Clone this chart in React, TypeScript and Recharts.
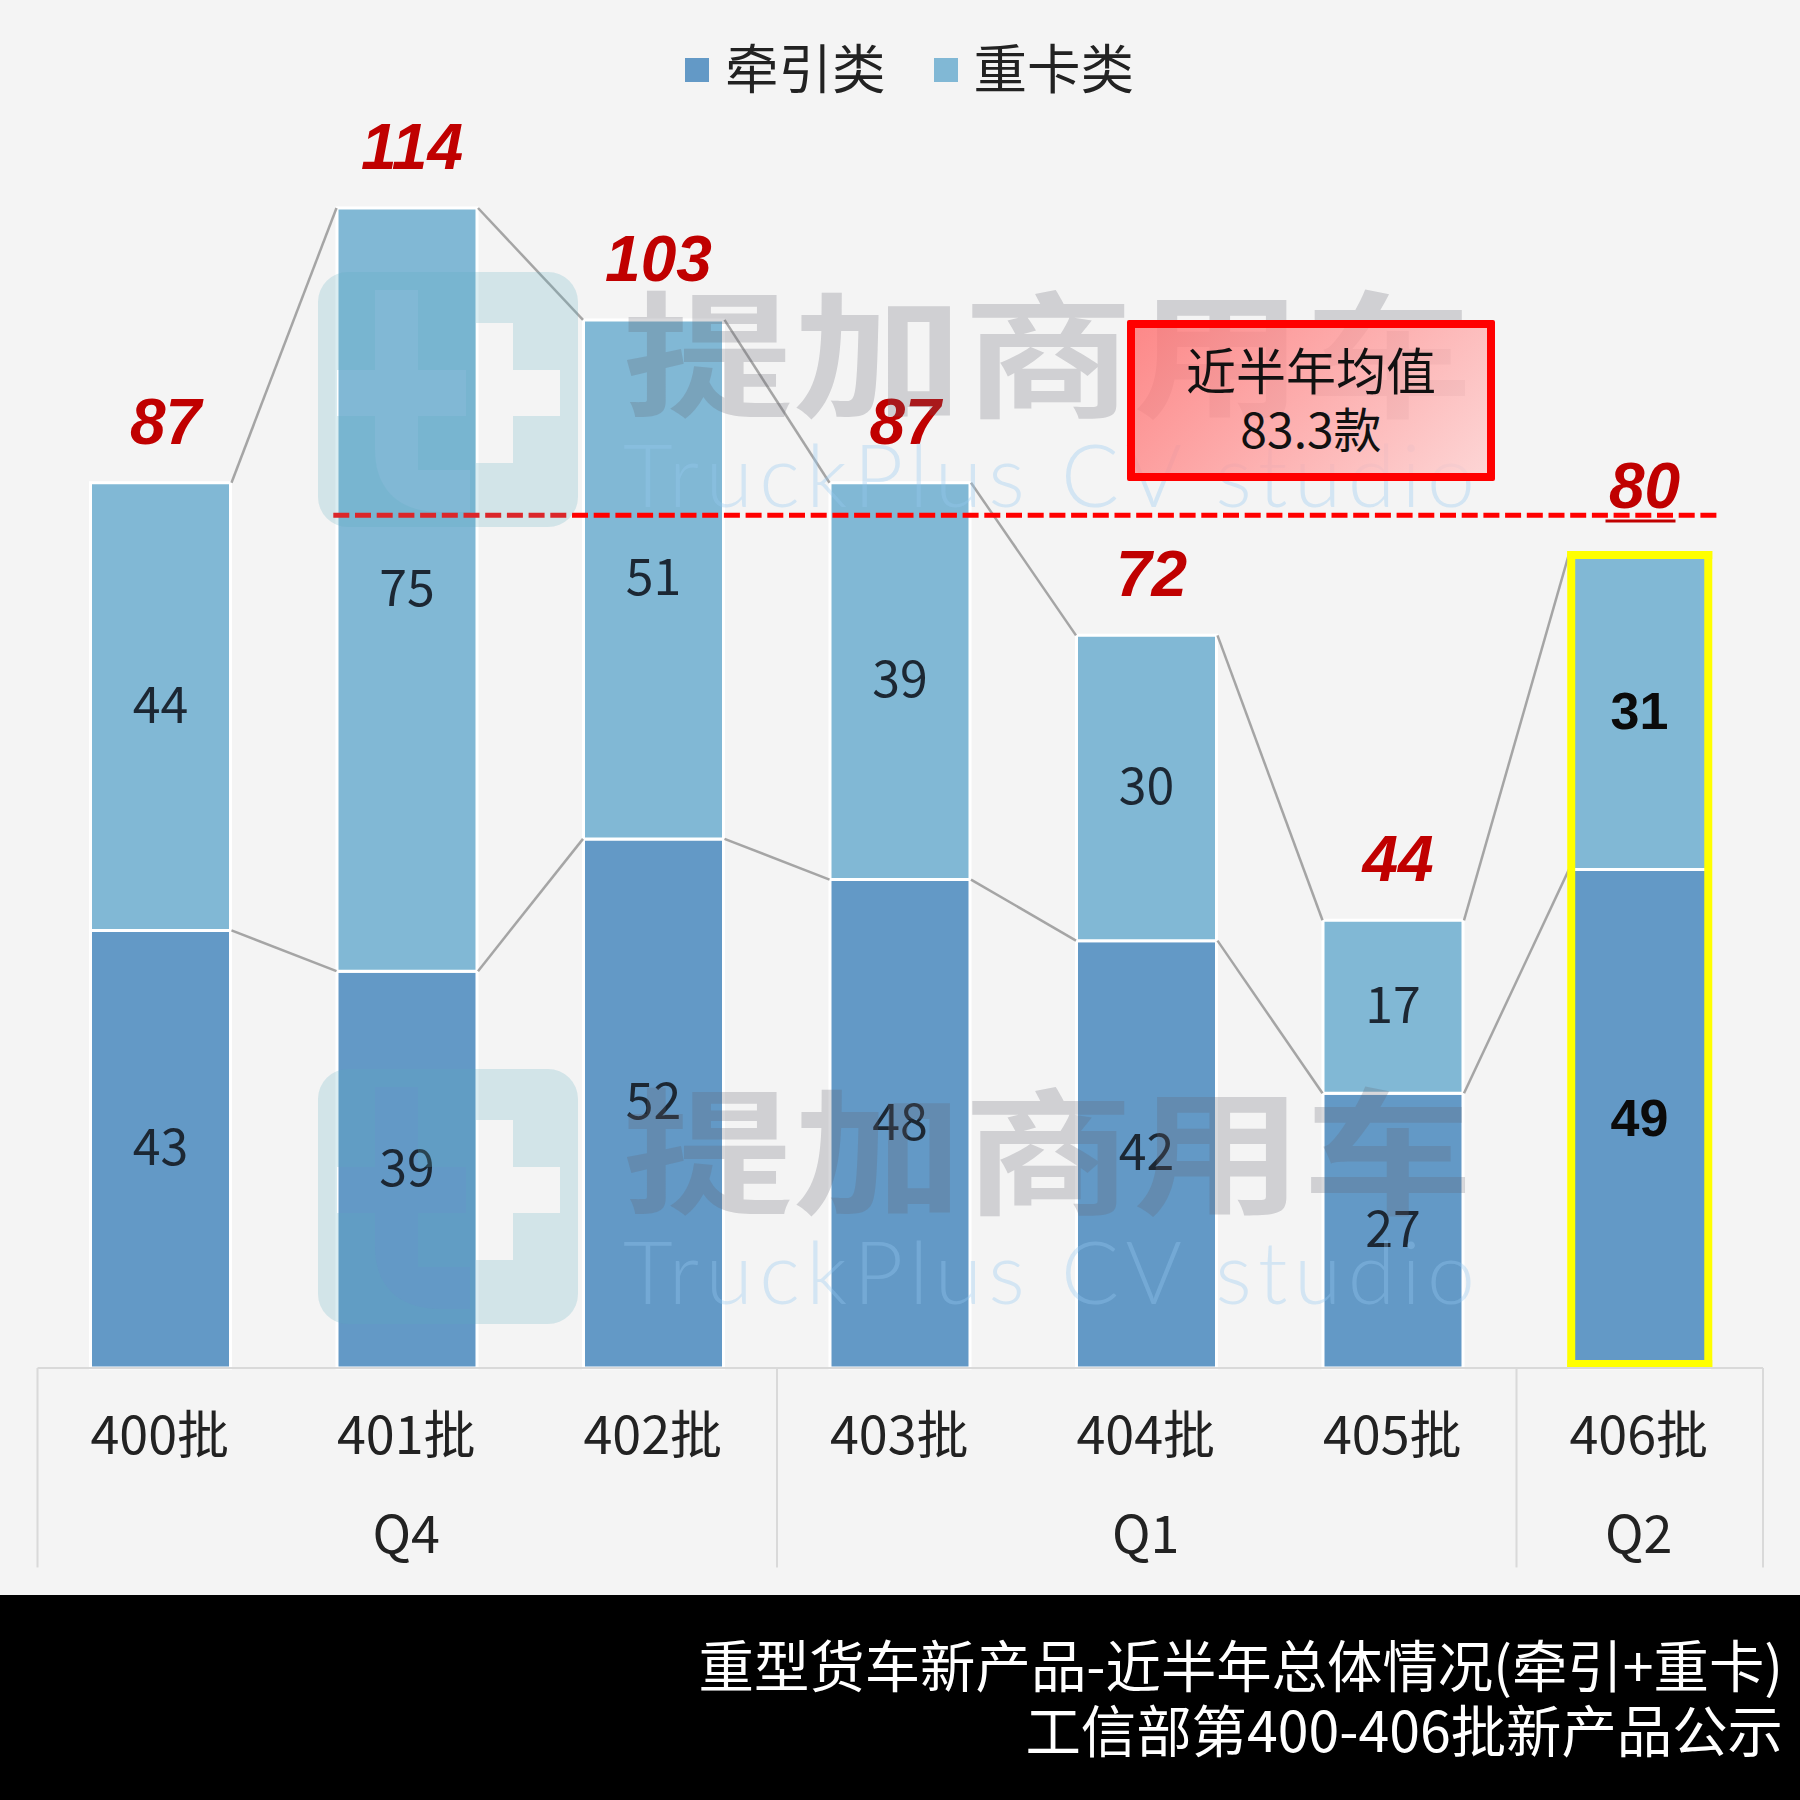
import * as React from "react"
import {
  Bar,
  BarChart,
  LabelList,
  Legend,
  ReferenceLine,
  XAxis,
  YAxis,
} from "recharts"

const batches = ["400批", "401批", "402批", "403批", "404批", "405批", "406批"]
const tractor = [43, 39, 52, 48, 42, 27, 49]
const heavy = [44, 75, 51, 39, 30, 17, 31]
const quarterLabels = ["", "Q4", "", "", "Q1", "", "Q2"]
const quarterEdges = [-0.5, 2.5, 5.5, 6.5]
const averageLine = 83.8

const data = batches.map((name, i) => ({
  name,
  pos: i,
  tractor: tractor[i],
  heavy: heavy[i],
  total: tractor[i] + heavy[i],
}))

const FONT = '"Noto Sans CJK SC", "Noto Sans", sans-serif'
const DARK = "#6399C6"
const LIGHT = "#81B8D5"
const LINE_GAP = 0.287 // series lines stop just short of the bar edges
const HIGHLIGHT = batches.length - 1

// Yellow frame round the latest batch, as four edges so it sits over the bars.
const frameEdges = [
  [{ x: 5.706, y: 79.9 }, { x: 6.294, y: 79.9 }],
  [{ x: 5.706, y: 0.4 }, { x: 6.294, y: 0.4 }],
  [{ x: 5.722, y: 80.3 }, { x: 5.722, y: 0 }],
  [{ x: 6.278, y: 80.3 }, { x: 6.278, y: 0 }],
]

function BatchTick({ x, y, payload, index }: any) {
  return (
    <g fontFamily={FONT} fontSize={52} fill="#222" textAnchor="middle">
      <text x={x - 1} y={y + 78}>
        {payload.value}
      </text>
      <text x={x - 1} y={y + 177}>
        {quarterLabels[index]}
      </text>
    </g>
  )
}

function ValueLabel({ x, y, width, height, value, index }: any) {
  const bold = index === HIGHLIGHT
  return (
    <text
      x={x + width / 2}
      y={y + height / 2 - (bold ? 1 : 6)}
      dominantBaseline="central"
      textAnchor="middle"
      fontFamily={bold ? "Liberation Sans" : FONT}
      fontWeight={bold ? 700 : 400}
      fontSize={bold ? 52 : 50}
      fill={bold ? "#0b0b0b" : "#1c2733"}
    >
      {value}
    </text>
  )
}

function TotalLabel({ x, y, width, value, index }: any) {
  const last = index === HIGHLIGHT
  const cx = x + width / 2 + 5
  const base = y - (last ? 46 : 39)
  return (
    <g>
      <text
        x={cx}
        y={base}
        textAnchor="middle"
        fontFamily="Liberation Sans"
        fontStyle="italic"
        fontWeight={700}
        fontSize={64}
        fill="#C00000"
      >
        {value}
      </text>
      {last ? (
        <line x1={cx - 39} x2={cx + 31} y1={base + 13} y2={base + 13} stroke="#C00000" strokeWidth={3} />
      ) : null}
    </g>
  )
}

function ChartLegend({ payload }: any) {
  return (
    <div style={{ display: "flex", alignItems: "center", fontFamily: FONT, fontSize: 53.5, color: "#222" }}>
      {(payload ?? []).map((item: any, i: number) => (
        <div key={item.value} style={{ display: "flex", alignItems: "center", marginLeft: i ? 48 : 0 }}>
          <span
            style={{
              width: 24,
              height: 24,
              background: item.color,
              marginRight: 16,
              position: "relative",
              top: 4,
            }}
          />
          <span style={{ lineHeight: "60px" }}>{item.value}</span>
        </div>
      ))}
    </div>
  )
}

function Watermark({ dy }: { dy: number }) {
  return (
    <g transform={`translate(0 ${dy})`}>
      <path
        fillRule="evenodd"
        fill="rgba(90,175,190,0.22)"
        d="M348 272H548a30 30 0 0 1 30 30V497a30 30 0 0 1-30 30H348a30 30 0 0 1-30-30V302a30 30 0 0 1 30-30Z
           M375 290H418V370H466V416H418V470H470V512H440C400 512 375 490 375 450V416H337V370H375Z
           M476 323H513V370H560V416H513V463H476Z"
      />
      <text
        transform="translate(623 407) scale(1 0.8)"
        fontFamily={FONT}
        fontWeight={700}
        fontSize={170}
        fill="rgba(100,100,110,0.25)"
      >
        提加商用车
      </text>
      <text
        x={623}
        y={507}
        textLength={852}
        lengthAdjust="spacing"
        fontFamily="Lato"
        fontWeight={300}
        fontSize={86}
        fill="rgba(150,200,240,0.35)"
      >
        TruckPlus CV studio
      </text>
    </g>
  )
}

export default function App() {
  return (
    <div
      style={{
        position: "absolute",
        left: 0,
        top: 0,
        width: 1800,
        height: 1800,
        background: "#F4F4F4",
        overflow: "hidden",
      }}
    >
      <BarChart
        width={1800}
        height={1800}
        data={data}
        barCategoryGap={0}
        margin={{ top: 208, right: 37, bottom: 0, left: 37.5 }}
      >
        <XAxis
          dataKey="name"
          interval={0}
          height={432}
          tickLine={false}
          tick={BatchTick}
          axisLine={{ stroke: "#D9D9D9", strokeWidth: 2 }}
        />
        <XAxis xAxisId="pos" dataKey="pos" type="number" domain={[-0.5, 6.5]} allowDataOverflow hide />
        <YAxis hide domain={[0, 114]} />
        <Legend
          content={ChartLegend}
          wrapperStyle={{ position: "absolute", left: 685, top: 36, width: "auto", height: 0 }}
        />
        <Bar
          dataKey="tractor"
          name="牵引类"
          stackId="a"
          barSize={140}
          fill={DARK}
          stroke="#fff"
          strokeWidth={3}
          isAnimationActive={false}
        >
          <LabelList dataKey="tractor" content={ValueLabel} />
        </Bar>
        <Bar
          dataKey="heavy"
          name="重卡类"
          stackId="a"
          barSize={140}
          fill={LIGHT}
          stroke="#fff"
          strokeWidth={3}
          isAnimationActive={false}
        >
          <LabelList dataKey="heavy" content={ValueLabel} />
          <LabelList dataKey="total" content={TotalLabel} />
        </Bar>

        {data.slice(0, -1).map((d, i) => (
          <ReferenceLine
            key={`top-${i}`}
            xAxisId="pos"
            ifOverflow="visible"
            stroke="#A5A5A5"
            strokeWidth={2.5}
            segment={[
              { x: i + LINE_GAP, y: d.total },
              { x: i + 1 - LINE_GAP, y: data[i + 1].total },
            ]}
          />
        ))}
        {data.slice(0, -1).map((d, i) => (
          <ReferenceLine
            key={`mid-${i}`}
            xAxisId="pos"
            ifOverflow="visible"
            stroke="#A5A5A5"
            strokeWidth={2.5}
            segment={[
              { x: i + LINE_GAP, y: d.tractor },
              { x: i + 1 - LINE_GAP, y: data[i + 1].tractor },
            ]}
          />
        ))}
        {quarterEdges.map((edge) => (
          <ReferenceLine
            key={edge}
            xAxisId="pos"
            ifOverflow="visible"
            stroke="#D9D9D9"
            strokeWidth={2}
            segment={[
              { x: edge, y: 0 },
              { x: edge, y: -19.6 },
            ]}
          />
        ))}
        {frameEdges.map((edge, i) => (
          <ReferenceLine
            key={`frame-${i}`}
            xAxisId="pos"
            ifOverflow="visible"
            stroke="#FFFF00"
            strokeWidth={8}
            segment={edge}
          />
        ))}
        <ReferenceLine
          xAxisId="pos"
          ifOverflow="visible"
          stroke="#FF0000"
          strokeWidth={5}
          strokeDasharray="16 5.7"
          segment={[
            { x: 0.70, y: averageLine },
            { x: 6.33, y: averageLine },
          ]}
        />
      </BarChart>

      <svg
        width={1800}
        height={1800}
        style={{ position: "absolute", left: 0, top: 0, pointerEvents: "none" }}
      >
        <Watermark dy={0} />
        <Watermark dy={797} />
      </svg>

      <div
        style={{
          position: "absolute",
          left: 1127,
          top: 320,
          width: 368,
          height: 161,
          boxSizing: "border-box",
          border: "8px solid #FF0000",
          borderRadius: 2,
          background: "linear-gradient(135deg, rgba(255,110,110,0.8), rgba(255,205,205,0.8))",
          fontFamily: FONT,
          color: "#111",
          textAlign: "center",
        }}
      >
        <div style={{ fontSize: 50, lineHeight: "60px", marginTop: 10 }}>近半年均值</div>
        <div style={{ fontSize: 48, lineHeight: "58px" }}>83.3款</div>
      </div>

      <div
        style={{
          position: "absolute",
          left: 0,
          top: 1595,
          width: 1800,
          height: 205,
          background: "#000",
          color: "#fff",
          fontFamily: FONT,
          fontSize: 55.4,
          textAlign: "right",
        }}
      >
        <div style={{ position: "absolute", right: 17, top: 33, lineHeight: "70px", whiteSpace: "nowrap" }}>
          重型货车新产品-近半年总体情况(牵引+重卡)
        </div>
        <div style={{ position: "absolute", right: 17, top: 98, lineHeight: "70px", whiteSpace: "nowrap" }}>
          工信部第400-406批新产品公示
        </div>
      </div>
    </div>
  )
}
